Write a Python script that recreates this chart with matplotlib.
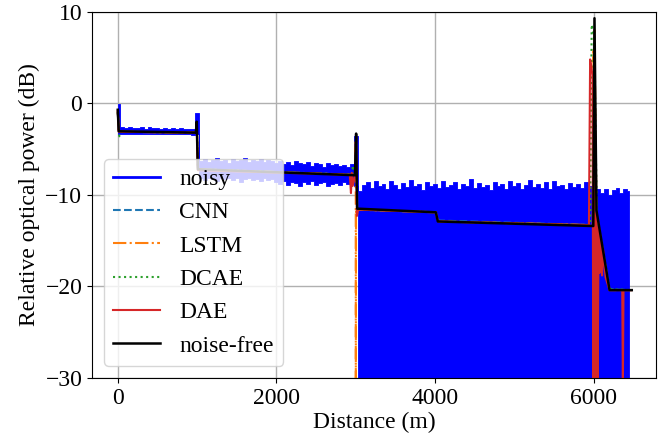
import numpy as np
import matplotlib
matplotlib.use("Agg")
import matplotlib.pyplot as plt

plt.rcParams['font.family'] = ['Liberation Serif', 'DejaVu Serif']
plt.rcParams['font.size'] = 17
plt.rcParams['mathtext.fontset'] = 'stix'

# Noisy OTDR trace: upper / lower envelope sampled every 50 m
noisy_x = np.arange(0, 6451, 50)
noisy_hi = [
    -0.1,
    -2.6, -2.7, -2.55, -2.7, -2.65, -2.6, -2.75, -2.6, -2.7, -2.65,
    -2.8, -2.7, -2.75, -2.65, -2.8, -2.7, -2.75, -2.8, -2.75,
    -1.1,
    -6.3, -6.1, -6.4, -6.2, -6.0, -6.3, -6.2, -6.5, -6.1, -6.3,
    -6.2, -6.0, -6.4, -6.2, -6.3, -6.1, -6.4, -6.2, -6.3,
    -6.5, -6.3, -6.6, -6.4, -6.7, -6.3, -6.5, -6.6, -6.4, -6.8,
    -6.5, -6.6, -6.9, -6.5, -6.7, -6.6, -6.8, -6.7, -6.9, -6.6,
    -3.6,
    -9.6, -8.9, -8.6, -9.2, -8.5, -9.0, -8.8, -9.4, -8.5, -8.9,
    -9.3, -8.7, -9.1, -8.4, -9.0, -8.8, -9.5, -8.6, -9.0, -8.8,
    -9.2, -8.5, -9.1, -8.9, -8.6, -9.4, -8.8, -9.0, -8.3, -9.2,
    -8.7, -9.1, -8.9, -9.5, -8.6, -9.0, -8.8, -9.3, -8.5, -9.0,
    -8.7, -9.3, -8.9, -8.4, -9.1, -8.8, -9.2, -8.6, -9.4, -8.5,
    -9.0, -8.9, -9.3, -8.7, -9.1, -8.8, -9.2, -8.6, -9.0,
    -9.0,
    -9.4, -9.8, -9.3, -10.0, -9.5, -9.2, -9.8, -9.4, -9.6,
]
noisy_lo = [
    -3.3,
    -3.3, -3.35, -3.3, -3.4, -3.3, -3.35, -3.3, -3.4, -3.35, -3.3,
    -3.4, -3.35, -3.3, -3.4, -3.35, -3.4, -3.35, -3.4, -3.45,
    -3.4,
    -8.2, -8.4, -8.1, -8.3, -8.5, -8.2, -8.3, -8.1, -8.4, -8.2,
    -8.6, -8.3, -8.2, -8.4, -8.3, -8.5, -8.2, -8.4, -8.3,
    -8.6, -8.8, -8.5, -8.9, -8.6, -8.7, -9.0, -8.6, -8.8, -8.5,
    -8.9, -8.7, -8.6, -9.0, -8.8, -8.7, -8.9, -8.6, -8.8, -8.7,
    -9.0,
] + [-40.0] * 69

# Denoised traces (polyline vertices, m / dB)
nf_x = [0, 12, 985, 995, 1010, 2990, 3005, 3018, 4010, 4035, 5995, 6010, 6035, 6200, 6480]
nf_y = [-0.7, -3.05, -3.2, -2.0, -7.2, -7.85, -3.3, -11.5, -11.9, -12.9, -13.4, 9.3, -11.7, -20.4, -20.4]

cnn_x = [0, 12, 985, 995, 1010, 2990, 3005, 3018, 4010, 4035, 5990, 6005, 6035, 6200, 6480]
cnn_y = [-0.9, -3.1, -3.2, -2.2, -7.2, -7.8, -3.6, -11.6, -11.9, -12.8, -13.3, 8.0, -12.0, -20.3, -20.4]

lstm_x = [0, 12, 985, 995, 1010, 2990, 3000, 3001, 3004, 3018, 4010, 4035,
          5990, 5999, 6001, 6004, 6010, 6035, 6200, 6480]
lstm_y = [-0.9, -3.1, -3.2, -2.1, -7.2, -7.8, -4.0, -31.0, -11.6, -11.6, -11.9, -12.9,
          -13.3, 6.0, -31.0, 7.0, 8.0, -12.0, -20.4, -20.4]

dcae_x = [0, 20, 40, 985, 995, 1010, 2950, 2965, 2980, 2990, 3005, 3018, 4010, 4035,
          5955, 5975, 6005, 6040, 6200, 6480]
dcae_y = [-1.0, -3.6, -3.1, -3.2, -2.1, -7.2, -7.8, -6.8, -7.6, -7.8, -3.5, -11.6, -11.9, -12.9,
          -13.3, 8.6, 7.5, -12.5, -20.3, -20.4]

dae_x = [0, 12, 985, 995, 1010, 2925, 2940, 2950, 2962, 2990, 3005, 3015, 3030, 4010, 4025, 4040,
         5940, 5955, 5970, 5985, 5995, 6005, 6020, 6035, 6050, 6062, 6075, 6090, 6105, 6120,
         6150, 6200, 6360, 6368, 6376, 6480]
dae_y = [-0.8, -3.1, -3.2, -2.1, -7.3, -7.8, -9.8, -7.6, -9.0, -7.9, -3.6, -12.3, -11.6, -11.9, -12.5, -12.9,
         -13.3, 4.8, 4.0, 3.0, -31.0, 2.0, -31.0, -12.0, -31.0, -13.5, -18.5, -14.5, -18.8, -16.0,
         -19.0, -20.4, -20.4, -31.0, -20.4, -20.4]

fig = plt.figure(figsize=(6.69, 4.38), dpi=100)
ax = fig.add_axes([0.1375, 0.137, 0.843, 0.836])

ax.fill_between(noisy_x, noisy_lo, noisy_hi, step='mid', color='blue', lw=0.6)
ax.plot([], [], color='blue', lw=2, label='noisy')
ax.plot(cnn_x, cnn_y, color='tab:blue', ls='--', lw=1.5, label='CNN')
ax.plot(lstm_x, lstm_y, color='tab:orange', ls='-.', lw=1.5, label='LSTM')
ax.plot(dcae_x, dcae_y, color='tab:green', ls=':', lw=1.5, label='DCAE')
ax.plot(dae_x, dae_y, color='tab:red', ls='-', lw=1.5, label='DAE')
ax.plot(nf_x, nf_y, color='black', ls='-', lw=1.8, label='noise-free')

ax.set_xlim(-325, 6785)
ax.set_ylim(-30, 10)
ax.set_xticks([0, 2000, 4000, 6000])
ax.set_yticks([-30, -20, -10, 0, 10])
ax.grid(True, color='#b0b0b0', lw=1)
ax.set_axisbelow(True)
ax.set_xlabel('Distance (m)', labelpad=2)
ax.set_ylabel('Relative optical power (dB)')
ax.legend(loc='lower left', borderaxespad=0.5)

fig.savefig('out.png', dpi=100)
